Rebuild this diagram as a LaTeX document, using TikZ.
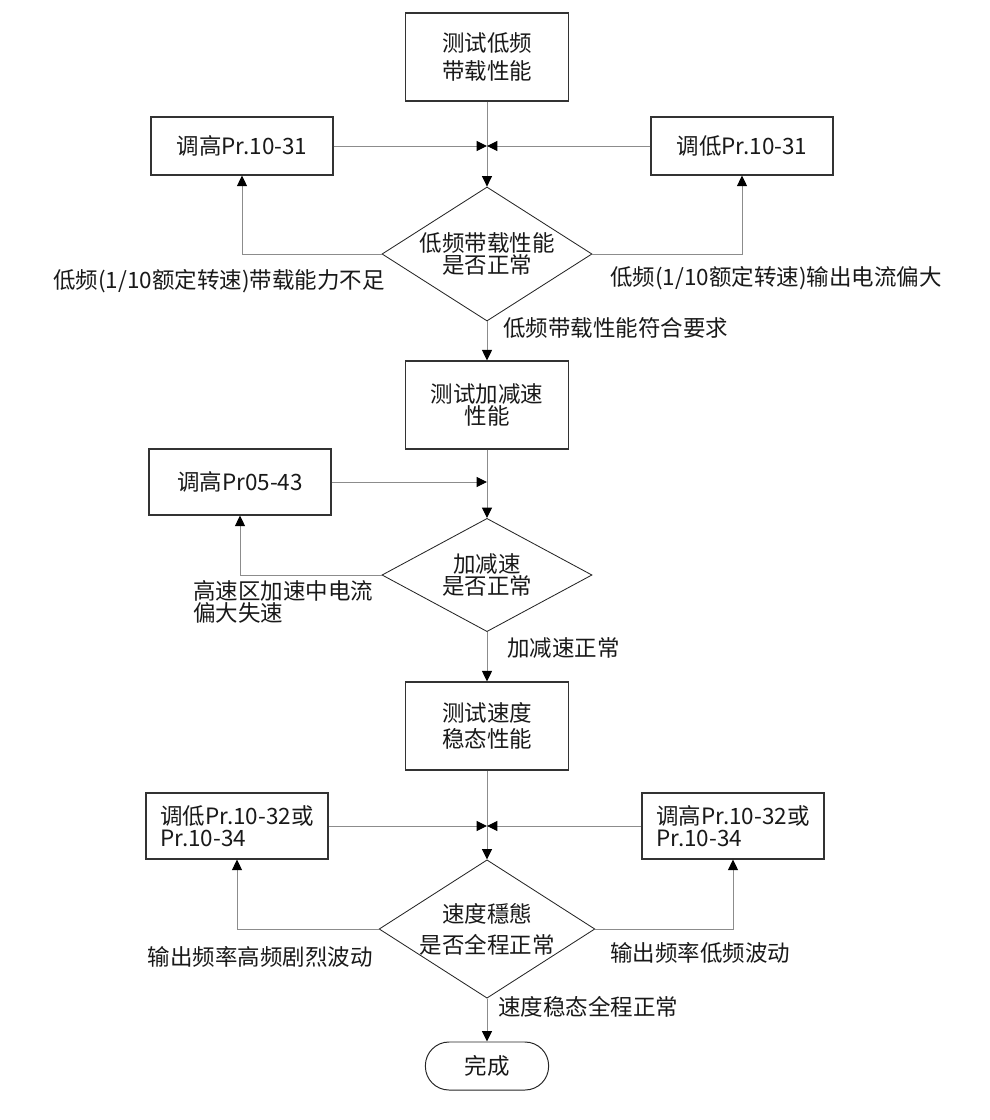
\documentclass[tikz,border=0pt]{standalone}
\usepackage{fontspec}
\setmainfont{Noto Sans CJK SC}
\usetikzlibrary{positioning,arrows.meta,shapes.geometric}
\newcommand\flowfont{\fontsize{16pt}{20pt}\selectfont\lineskiplimit-50pt\relax}
\tikzset{
  flowarrow/.style={-{Triangle[length=2.6mm, width=2.5mm, color=black]}, line width=0.7pt, draw=black!45},
  testnode/.style={draw=black!80, line width=0.9pt, minimum width=4.08cm, minimum height=2.2cm, align=center},
  tunenode/.style={draw=black!80, line width=0.9pt, minimum width=4.55cm, minimum height=1.45cm, align=left},
  checknode/.style={draw=black!85, line width=0.6pt, diamond, aspect=1.56, inner sep=0pt, minimum width=5.25cm, minimum height=3.35cm, align=center},
  donenode/.style={draw=black!85, line width=0.7pt, rounded corners=0.59cm, minimum width=3.08cm, minimum height=1.2cm},
  branchlabel/.style={inner sep=0pt, align=left}
}

\begin{document}
\begin{tikzpicture}[x=0.025cm, y=-0.025cm, every node/.style={font=\flowfont, text=black!90}]
      \useasboundingbox (0,0) rectangle (990,1120);
      \node[testnode] (lowtest) at (487,57) {测试低频\\带载性能};
      \node[tunenode] (raiselow) at (242,146) {调高Pr.10-31};
      \node[tunenode] (droplow) at (742,146) {调低Pr.10-31};
      \node[checknode] (lowcheck) at (487,254) {低频带载性能\\[-4pt]是否正常};
      \node[branchlabel, anchor=east] (lowweak) at (385,281) {低频(1/10额定转速)带载能力不足};
      \node[branchlabel, anchor=west] (lowhigh) at (610,278) {低频(1/10额定转速)输出电流偏大};
      \node[branchlabel, anchor=west] (lowok) at (503,328) {低频带载性能符合要求};
      \node[testnode] (acctest) at (487,405) {测试加减速\\[-4pt]性能};
      \node[tunenode, minimum height=1.65cm] (raiseacc) at (240,482) {调高Pr05-43};
      \node[checknode, aspect=1.86, minimum height=2.83cm] (acccheck) at (487,575) {加减速\\[-4pt]是否正常};
      \node[branchlabel, anchor=west] (accstall) at (193,602) {高速区加速中电流\\[-4pt]偏大失速};
      \node[branchlabel, anchor=west] (accok) at (507,648) {加减速正常};
      \node[testnode] (speedtest) at (487,726) {测试速度\\[-2pt]稳态性能};
      \node[tunenode, minimum height=1.65cm] (droptune) at (237,826) {调低Pr.10-32或\\[-4pt]Pr.10-34};
      \node[tunenode, minimum height=1.65cm] (raisetune) at (733,826) {调高Pr.10-32或\\[-4pt]Pr.10-34};
      \node[checknode, minimum height=3.38cm] (speedcheck) at (487,929) {速度穩態\\[2pt]是否全程正常};
      \node[branchlabel, anchor=east] (speedfast) at (373,957) {输出频率高频剧烈波动};
      \node[branchlabel, anchor=west] (speedslow) at (610,953) {输出频率低频波动};
      \node[branchlabel, anchor=west] (speedok) at (498,1007) {速度稳态全程正常};
      \node[donenode] (done) at (487,1066) {完成};
      \draw[flowarrow] (lowtest.south) -- (lowcheck.north);
      \draw[flowarrow] (raiselow.east) -- (raiselow.east -| lowtest.south);
      \draw[flowarrow] (droplow.west) -- (droplow.west -| lowtest.south);
      \draw[flowarrow] (lowcheck.west) -| (raiselow.south);
      \draw[flowarrow] (lowcheck.east) -| (droplow.south);
      \draw[flowarrow] (lowcheck.south) -- (acctest.north);
      \draw[flowarrow] (acctest.south) -- (acccheck.north);
      \draw[flowarrow] (raiseacc.east) -- (raiseacc.east -| acctest.south);
      \draw[flowarrow] (acccheck.west) -| (raiseacc.south);
      \draw[flowarrow] (acccheck.south) -- (speedtest.north);
      \draw[flowarrow] (speedtest.south) -- (speedcheck.north);
      \draw[flowarrow] (droptune.east) -- (droptune.east -| speedtest.south);
      \draw[flowarrow] (raisetune.west) -- (raisetune.west -| speedtest.south);
      \draw[flowarrow] (speedcheck.west) -| (droptune.south);
      \draw[flowarrow] (speedcheck.east) -| (raisetune.south);
      \draw[flowarrow] (speedcheck.south) -- (done.north);
    \end{tikzpicture}
\end{document}
